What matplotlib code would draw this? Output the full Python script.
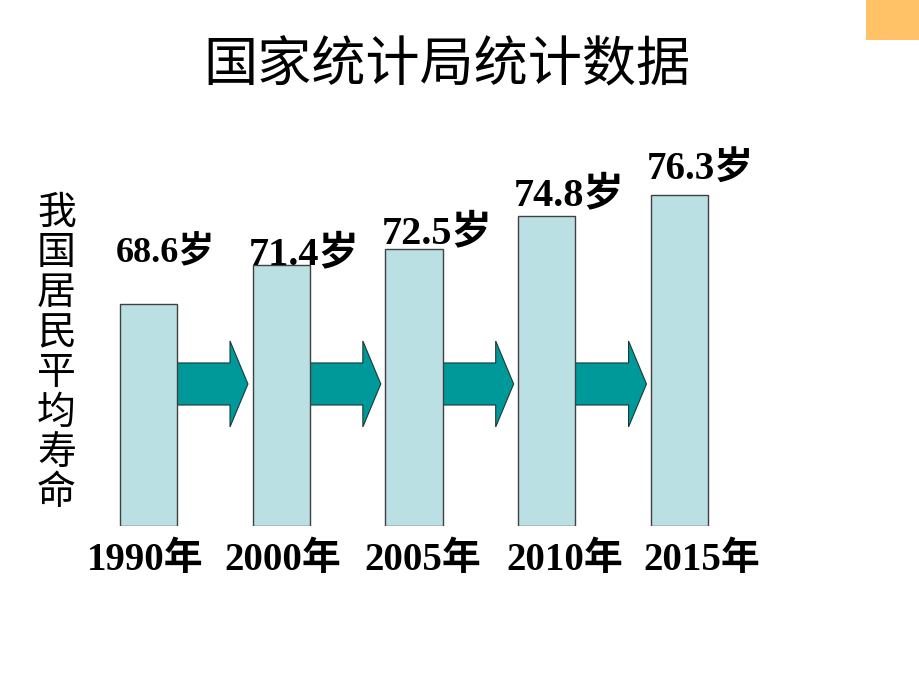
import matplotlib
matplotlib.use("Agg")
import matplotlib.pyplot as plt
from matplotlib.patches import Rectangle, FancyArrow

# data
years = ["1990年", "2000年", "2005年", "2010年", "2015年"]
life = [68.6, 71.4, 72.5, 74.8, 76.3]
value_labels = ["68.6岁", "71.4岁", "72.5岁", "74.8岁", "76.3岁"]
title = "国家统计局统计数据"
side_text = "我国居民平均寿命"

# small hand nudges (points) so labels sit like on the slide
label_lift = [30, 0, 4, 8, 12]
label_size = [26, 29, 29, 29, 28]
year_shift = [-2, 1, 6, 13, 16]

serif_cjk = ["Liberation Serif", "Noto Sans CJK SC"]
bar_color = "#bbe0e3"
arrow_color = "#009999"

fig = plt.figure(figsize=(9.2, 6.9), dpi=100)
fig.patch.set_facecolor("white")

ax = fig.add_axes([0.089, 0.2377, 0.722, 0.6174])
ax.set_xlim(-0.5, 4.5)
ax.set_ylim(53.0, 83.0)
ax.axis("off")

x = list(range(len(years)))
w = 0.43
ax.bar(x, [v - 53.0 for v in life], bottom=53.0, width=w,
       color=bar_color, edgecolor="#404040", linewidth=1.0, zorder=3)

# arrows between bars
for i in range(len(x) - 1):
    start = x[i] + w / 2
    end = x[i + 1] - w / 2 - 0.035
    arr = FancyArrow(start, 63.0, end - start, 0, width=2.96,
                     head_width=6.05, head_length=0.135,
                     length_includes_head=True,
                     facecolor=arrow_color, edgecolor="#1a3a3a",
                     linewidth=0.8, zorder=2)
    ax.add_patch(arr)

# value labels above bars
for i, v in enumerate(life):
    ax.annotate(value_labels[i], xy=(x[i] - w / 2, v), xytext=(-3, label_lift[i]),
                textcoords="offset points", ha="left", va="baseline",
                fontsize=label_size[i], fontweight="bold", family=serif_cjk,
                color="black", zorder=5, annotation_clip=False)

# year labels under bars
for i, yr in enumerate(years):
    ax.annotate(yr, xy=(x[i], 53.0), xytext=(year_shift[i], -32),
                textcoords="offset points", ha="center", va="baseline",
                fontsize=28, fontweight="bold", family=serif_cjk,
                color="black", annotation_clip=False)

# title
fig.text(0.486, 0.904, title, ha="center", va="center", fontsize=39,
         family=["Noto Sans CJK SC", "DejaVu Sans"], fontweight="light")

# vertical side label, one character per line
for k, ch in enumerate(side_text):
    ypix = 213 + k * 40
    fig.text(56.5 / 920, 1 - ypix / 690, ch, ha="center", va="center",
             fontsize=28, family=["Noto Sans CJK SC", "DejaVu Sans"])

# orange corner block
fig.patches.append(Rectangle((865.7 / 920, 1 - 40 / 690), 1 - 865.7 / 920, 40 / 690,
                             transform=fig.transFigure, facecolor="#ffc266",
                             edgecolor="none"))

fig.savefig("out.png", dpi=100)
